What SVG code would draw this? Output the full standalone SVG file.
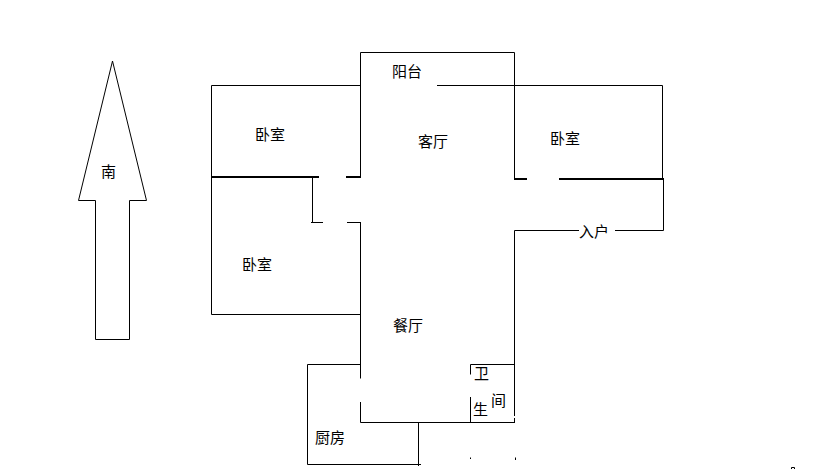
<svg xmlns="http://www.w3.org/2000/svg" width="819" height="469" viewBox="0 0 819 469">
<style>
.w{fill:none;stroke:#000;stroke-width:1}
.t{fill:none;stroke:#000;stroke-width:2}
.l{font-family:"Noto Sans CJK SC","Liberation Sans",sans-serif;font-size:15px;fill:#000}
</style>
<rect width="819" height="469" fill="#fff"/>
<g id="arrow"><path class="w" d="M112.5 61L146.5 200.5H129.5V339.5H95.5V200.5H78.5Z"/><text class="l" x="101" y="177">南</text></g>
<g id="walls">
<path class="w" d="M360.5 85.5H211.5V314.5H360.5"/>
<path class="w" d="M360.5 177V52.5H514.5V178"/>
<path class="w" d="M437 85.5H662.5V178"/>
<path class="t" d="M211 177H319M346 177H361M514 179H527M559 179H664"/>
<path class="w" d="M312.5 177V222.5M311 222.5H323M347 222.5H360.5M360.5 222V378.5"/>
<path class="w" d="M663.5 179V230.5H615M579 230.5H514.5V416M514.5 418V423"/>
<path class="w" d="M360.5 402V422.5H514.5M418.5 422.5V466M307.5 364.5H360.5M307.5 364.5V464.5H421"/>
<path class="w" d="M470.5 374.5V364.5H514.5M470.5 397V423"/>
<path class="w" d="M470.5 457.5V459M515.5 457.5V460M791.5 469V467.5H794.5V469"/>
</g>
<g id="labels">
<text class="l" x="392" y="77">阳台</text>
<text class="l" x="255" y="140">卧室</text>
<text class="l" x="418" y="147">客厅</text>
<text class="l" x="550" y="144">卧室</text>
<text class="l" x="242" y="270">卧室</text>
<text class="l" x="579" y="237">入户</text>
<text class="l" x="393" y="331">餐厅</text>
<text class="l" x="474" y="379">卫</text>
<text class="l" x="491" y="406">间</text>
<text class="l" x="473" y="415">生</text>
<text class="l" x="315" y="443">厨房</text>
</g>
</svg>
